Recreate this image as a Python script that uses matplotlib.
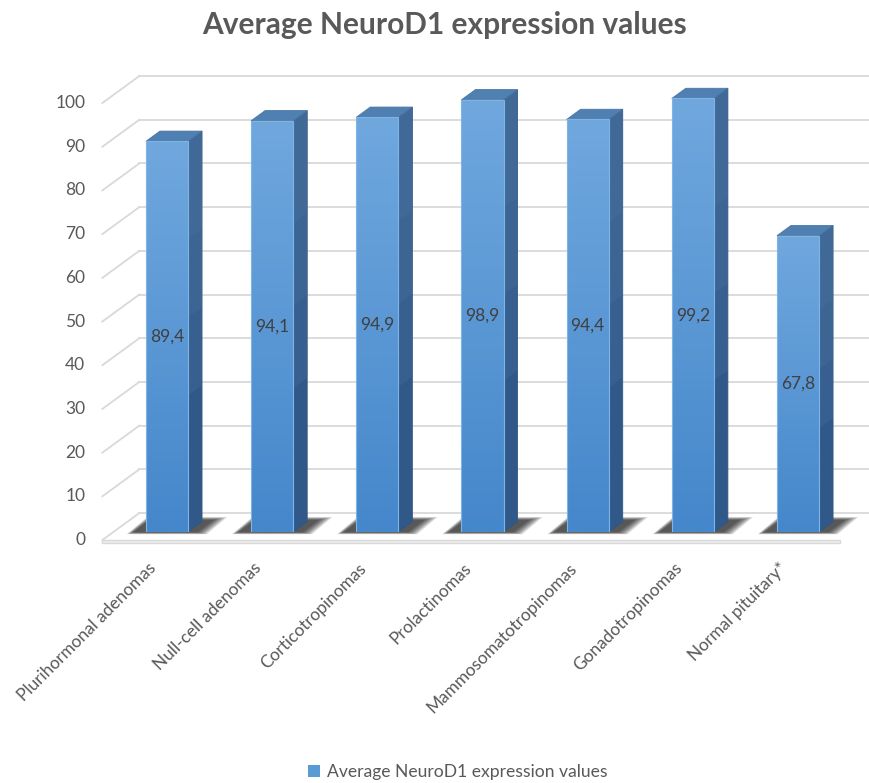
import numpy as np
import matplotlib
matplotlib.use("Agg")
import matplotlib.pyplot as plt
from matplotlib.patches import Polygon, Rectangle, Patch
from matplotlib.lines import Line2D
from matplotlib.transforms import IdentityTransform

# ---- data ----
categories = ["Plurihormonal adenomas", "Null-cell adenomas", "Corticotropinomas",
              "Prolactinomas", "Mammosomatotropinomas", "Gonadotropinomas",
              "Normal pituitary*"]
values = [89.4, 94.1, 94.9, 98.9, 94.4, 99.2, 67.8]
y_ticks = [0, 10, 20, 30, 40, 50, 60, 70, 80, 90, 100]
title = "Average NeuroD1 expression values"
series_name = "Average NeuroD1 expression values"

plt.rcParams["font.family"] = ["Lato", "DejaVu Sans"]

W, H = 869, 783
fig = plt.figure(figsize=(W / 100, H / 100), dpi=100)
fig.patch.set_facecolor("white")

# axes = front plane of the bars (value 0 at row 532, value 100 at row 95)
ax_left, ax_right = 114.4, 850.6
ax_bottom_row, ax_top_row = 532, 95
ax = fig.add_axes([ax_left / W, 1 - ax_bottom_row / H,
                   (ax_right - ax_left) / W, (ax_bottom_row - ax_top_row) / H])
ax.set_xlim(-0.5, len(categories) - 0.5)
ax.set_ylim(0, 100)
ax.set_autoscale_on(False)
ax.axis("off")

DEPTH = np.array([1.0, 0.73])   # display-space direction of "into the chart"
FRONT_D = -11                   # floor front edge / axis labels plane
BAR_D = 14                      # depth of a bar
WALL_D = 26                     # back wall plane
BAR_W = 0.40                    # bar width in category units
X0, X1 = -0.51, len(categories) - 0.5
IDT = IdentityTransform()


def P(x, y, d=0.0):
    """Data point on the bar plane, pushed d pixels back in depth."""
    p = ax.transData.transform((x, y))
    return p + d * DEPTH


def poly(pts, **kw):
    patch = Polygon(np.array(pts), closed=True, transform=IDT, clip_on=False, **kw)
    ax.add_artist(patch)
    return patch


def line(p, q, **kw):
    ax.add_artist(Line2D([p[0], q[0]], [p[1], q[1]], transform=IDT,
                         clip_on=False, **kw))


grid_c = "#d9d9d9"

# back wall and side wall gridlines
for v in y_ticks:
    line(P(X0, v, FRONT_D), P(X0, v, WALL_D), color=grid_c, lw=1.3, zorder=1)
    line(P(X0, v, WALL_D), P(X1 + 0.3, v, WALL_D), color=grid_c, lw=1.3, zorder=1)

# floor front edge (thin slab)
fl, fr = P(X0, 0, FRONT_D), P(X1, 0, FRONT_D)
poly([fl, fr, fr - [0, 3], fl - [0, 3]], facecolor="#eeeeee", edgecolor=grid_c,
     lw=1.0, zorder=1.6)

# y tick labels on the front plane
for v in y_ticks:
    p = P(X0, v, FRONT_D)
    fig.text((p[0] - 17) / W, p[1] / H, str(v), ha="right", va="center",
             fontsize=12.5, color="#595959")

# front-face gradient (light top -> darker bottom)
grad = np.linspace(0, 1, 256).reshape(-1, 1)
top_c = np.array([0x70, 0xa8, 0xde]) / 255
bot_c = np.array([0x45, 0x87, 0xcb]) / 255
grad_img = (top_c * (1 - grad)[..., None] + bot_c * grad[..., None]).reshape(256, 1, 3)

for i, v in enumerate(values):
    xl, xr = i - BAR_W / 2, i + BAR_W / 2

    # soft shadow on the floor
    fl_, fr_ = P(xl, 0), P(xr, 0)
    for k in range(9):
        g = 9 - k
        pts = [fl_ + [-12 - g * 0.8, -g * 0.25], fr_ + [8 + g * 1.2, -g * 0.25],
               fr_ + [8 + g * 1.2, 0] + (BAR_D + 2 + g * 0.5) * DEPTH,
               fl_ + [-12 - g * 0.8, 0] + (BAR_D + 2 + g * 0.5) * DEPTH]
        poly(pts, facecolor="#111111", edgecolor="none", alpha=0.12, zorder=2)

    # right side face
    side = [P(xr, 0), P(xr, v), P(xr, v, BAR_D), P(xr, 0, BAR_D)]
    poly(side, facecolor="#30598a", edgecolor="#2f5780", lw=0.6, zorder=3)
    for frac in [0.35, 0.55, 0.75]:
        sm = [P(xr, v * frac), P(xr, v), P(xr, v, BAR_D), P(xr, v * frac, BAR_D)]
        poly(sm, facecolor="#4a73a0", edgecolor="none", alpha=0.3, zorder=3.1)

    # top face
    top = [P(xl, v), P(xr, v), P(xr, v, BAR_D), P(xl, v, BAR_D)]
    poly(top, facecolor="#5080b2", edgecolor="#4a76a4", lw=0.6, zorder=3)

    # front face with gradient
    im = ax.imshow(grad_img, extent=(xl, xr, 0, v), aspect="auto",
                   zorder=4, interpolation="bilinear")
    rect = Rectangle((xl, 0), BAR_W, v, facecolor="none",
                     edgecolor="#7fb4e6", lw=0.8, zorder=4.5)
    ax.add_patch(rect)
    im.set_clip_path(rect)

    # value label in the middle of the front face
    ax.text(i, v / 2, f"{v:.1f}".replace(".", ","), ha="center", va="center",
            fontsize=12.5, color="#404040", zorder=6)

    # category label
    a = P(i, 0, FRONT_D)
    fig.text((a[0] - 8) / W, (a[1] - 20) / H, categories[i], rotation=45,
             rotation_mode="anchor", ha="right", va="top", fontsize=12.4,
             color="#595959")

ax.set_xlim(-0.5, len(categories) - 0.5)
ax.set_ylim(0, 100)

# title
fig.text(445 / W, 1 - 34 / H, title, ha="center", va="baseline",
         fontsize=21.5, fontweight="bold", color="#595959")

# legend
fig.legend(handles=[Patch(facecolor="#5b9bd5", edgecolor="none")],
           labels=[series_name], loc="center", bbox_to_anchor=(458 / W, 1 - 772 / H),
           frameon=False, handlelength=0.7, handleheight=0.7, handletextpad=0.4,
           fontsize=12.6, labelcolor="#595959")

fig.savefig("out.png", dpi=100, facecolor="white")
